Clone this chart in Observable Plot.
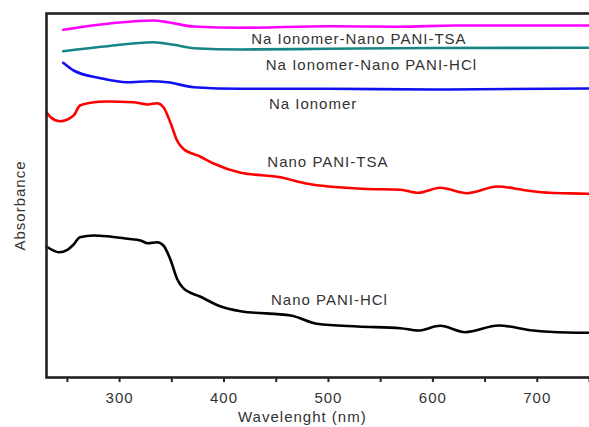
<!DOCTYPE html>
<html>
<head>
<meta charset="utf-8">
<script src="https://cdn.jsdelivr.net/npm/d3@7"></script>
<script src="https://cdn.jsdelivr.net/npm/@observablehq/plot@0.6"></script>
<style>
  html, body { margin: 0; padding: 0; background: #fff; overflow: hidden; }
  #chart svg { display: block; }
</style>
</head>
<body>
<div id="chart"></div>
<script>
// Wavelength (nm) and absorbance (arbitrary units, curves offset vertically)
const magentaWl = [246, 288, 332, 346, 371, 416, 500, 569, 620, 750];
const magentaAb = [3.477, 3.537, 3.57, 3.553, 3.51, 3.497, 3.513, 3.507, 3.52, 3.52];

const tealWl = [246, 288, 332, 352, 371, 416, 500, 600, 750];
const tealAb = [3.263, 3.313, 3.353, 3.327, 3.293, 3.28, 3.287, 3.295, 3.297];

const blueWl = [246, 256, 282, 307, 330, 346, 371, 416, 500, 600, 750];
const blueAb = [3.147, 3.07, 2.993, 2.953, 2.963, 2.953, 2.903, 2.887, 2.887, 2.88, 2.89];

const redWl = [230, 234, 243, 256, 262, 272, 288, 313, 327, 336, 342, 349, 355, 361, 377, 390, 416, 454, 480, 533, 569, 586, 607, 633, 662, 690, 712, 748, 750];
const redAb = [2.653, 2.603, 2.563, 2.62, 2.72, 2.747, 2.76, 2.753, 2.73, 2.743, 2.703, 2.54, 2.37, 2.287, 2.21, 2.14, 2.047, 2.003, 1.937, 1.887, 1.877, 1.847, 1.897, 1.843, 1.91, 1.87, 1.847, 1.837, 1.836];

const blackWl = [230, 242, 250, 256, 262, 275, 288, 308, 320, 327, 336, 342, 349, 355, 361, 377, 397, 416, 464, 489, 528, 569, 586, 607, 631, 663, 696, 729, 750];
const blackAb = [1.31, 1.253, 1.277, 1.33, 1.403, 1.42, 1.413, 1.387, 1.37, 1.343, 1.353, 1.32, 1.17, 0.987, 0.893, 0.81, 0.71, 0.663, 0.62, 0.537, 0.51, 0.493, 0.47, 0.517, 0.453, 0.52, 0.47, 0.45, 0.447];

const seriesNames = ["Na Ionomer-Nano PANI-TSA", "Na Ionomer-Nano PANI-HCl", "Na Ionomer", "Nano PANI-TSA", "Nano PANI-HCl"];
const seriesColors = ["#ff00ff", "#178585", "#1010f0", "#ff0000", "#000000"];
const labelWl = [426, 440, 443, 441.5, 445];
const labelAb = [3.387, 3.12, 2.737, 2.15, 0.77];

const majorTicks = [300, 400, 500, 600, 700];
const minorTicks = [250, 350, 450, 550, 650, 750];
const xExtent = [230, 750];
const axisTitles = ["Wavelenght (nm)"];
const yTitles = ["Absorbance"];

const wls = [magentaWl, tealWl, blueWl, redWl, blackWl];
const abs = [magentaAb, tealAb, blueAb, redAb, blackAb];
const rows = [];
seriesNames.forEach((s, i) => wls[i].forEach((w, j) => rows.push({series: s, wl: w, ab: abs[i][j]})));
const labels = seriesNames.map((s, i) => ({name: s, wl: labelWl[i], ab: labelAb[i]}));

const chart = Plot.plot({
  width: 589,
  height: 427,
  marginLeft: 46,
  marginRight: -2,
  marginTop: 13,
  marginBottom: 50,
  style: {fontFamily: "'Liberation Sans', Arial, sans-serif", fontSize: "15px", letterSpacing: "1px", color: "#222", background: "#fff"},
  x: {domain: xExtent, range: [46, 589]},
  y: {domain: [0, 3.64], axis: null},
  color: {domain: seriesNames, range: seriesColors},
  marks: [
    Plot.axisX({ticks: minorTicks, tickSize: 5, text: null, label: null, strokeWidth: 2}),
    Plot.axisX({ticks: majorTicks, tickSize: 5, tickPadding: 10, label: null, strokeWidth: 2, fontSize: 15, fill: "#333"}),
    Plot.line(rows, {x: "wl", y: "ab", z: "series", stroke: "series", strokeWidth: 2.6, curve: "monotone-x"}),
    Plot.frame({stroke: "#222", strokeWidth: 2.6}),
    Plot.text(labels, {x: "wl", y: "ab", text: "name", textAnchor: "start", fill: "#333", fontSize: 15}),
    Plot.text(axisTitles, {x: 475, y: 0, textAnchor: "middle", dy: 40, fill: "#333", fontSize: 15}),
    Plot.text(yTitles, {x: 230, y: 1.72, textAnchor: "middle", dx: -26, rotate: -90, fill: "#333", fontSize: 15})
  ]
});
document.getElementById("chart").appendChild(chart);
</script>
</body>
</html>
